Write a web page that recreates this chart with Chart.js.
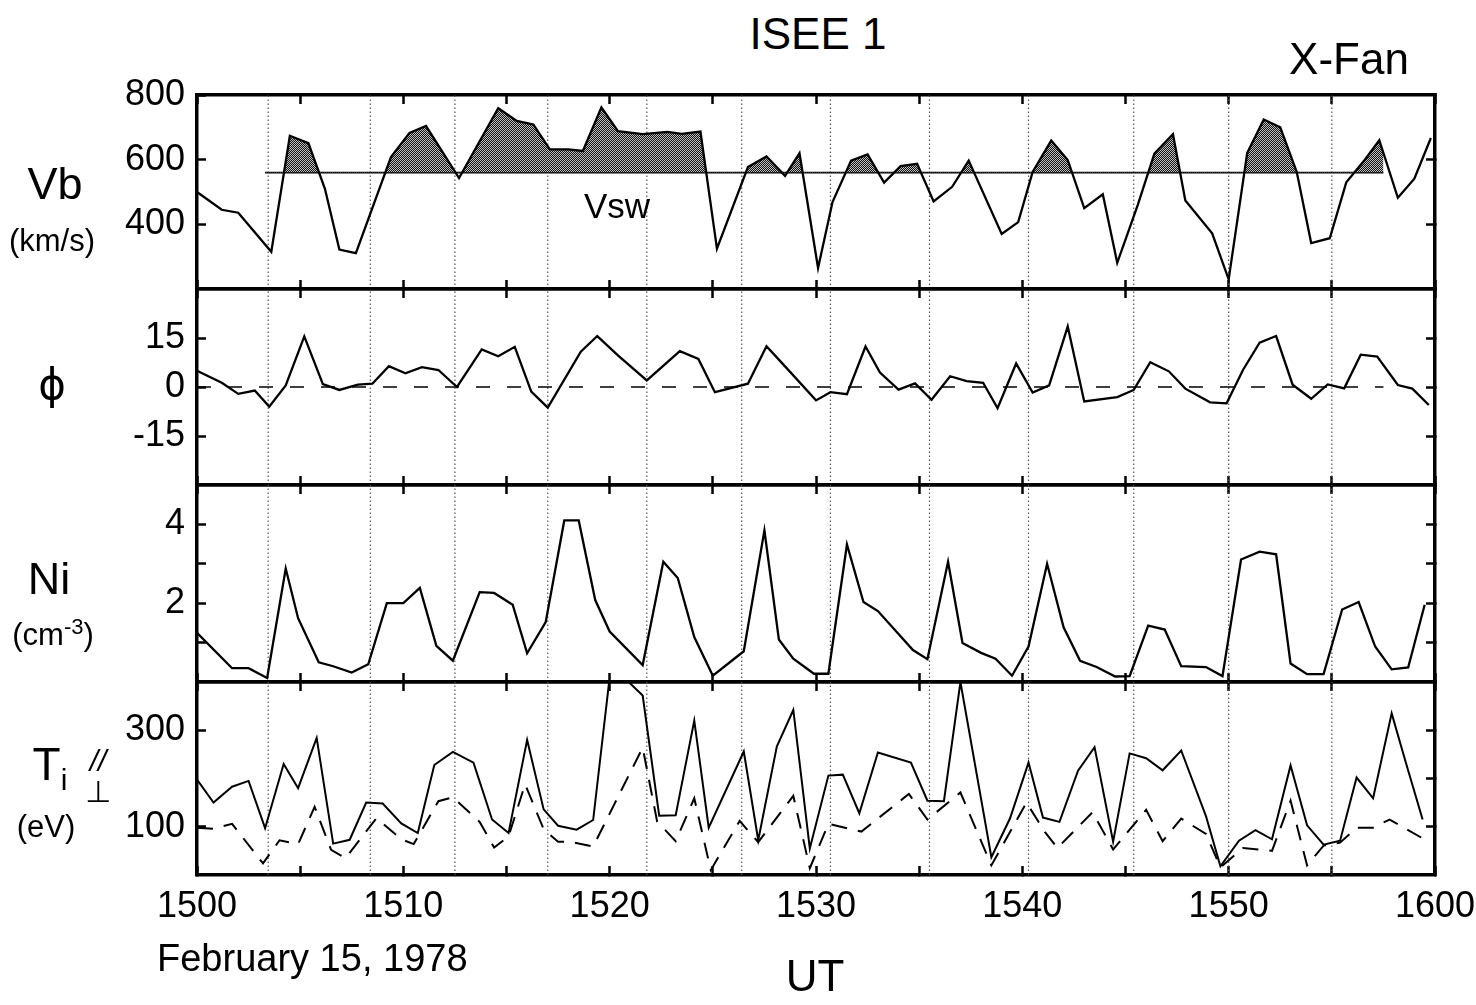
<!DOCTYPE html>
<html>
<head>
<meta charset="utf-8">
<script src="https://cdn.jsdelivr.net/npm/chart.js@4.4.1/dist/chart.umd.min.js"></script>
<style>
  body { margin: 0; background: #fff; }
  #fig { position: relative; width: 1476px; height: 1005px; overflow: hidden;
         font-family: "Liberation Sans", Arial, Helvetica, sans-serif; color: #000; }
  .panel { position: absolute; left: 0; }
  .panel canvas { display: block; }
  .lbl { position: absolute; transform: translate(-50%, -50%); white-space: nowrap; line-height: 1; }
  .sym { font-family: "DejaVu Sans", sans-serif; }
</style>
</head>
<body>
<div id="fig">
  <div class="panel"><canvas id="vbChart"></canvas></div>
  <div class="panel"><canvas id="phiChart"></canvas></div>
  <div class="panel"><canvas id="niChart"></canvas></div>
  <div class="panel"><canvas id="tiChart"></canvas></div>

  <div class="lbl" style="left:818px; top:34px; font-size:44px;">ISEE 1</div>
  <div class="lbl" style="left:1349px; top:59px; font-size:44px;">X-Fan</div>

  <div class="lbl" style="left:55px; top:183px; font-size:45px;">Vb</div>
  <div class="lbl" style="left:52px; top:240px; font-size:31px;">(km/s)</div>
  <div class="lbl" style="left:617px; top:205px; font-size:35px;">Vsw</div>

  <div class="lbl sym" style="left:52px; top:385px; font-size:42px;">ϕ</div>

  <div class="lbl" style="left:49px; top:578px; font-size:45px;">Ni</div>
  <div class="lbl" style="left:53px; top:633px; font-size:31px;">(cm<sup style="font-size:22px;">-3</sup>)</div>

  <div class="lbl" style="left:50px; top:768px; font-size:46px;">T<sub style="font-size:30px;">i</sub></div>
  <div class="lbl" style="left:98px; top:761px; font-size:30px; font-style:italic;">//</div>
  <div class="lbl sym" style="left:98px; top:792px; font-size:30px;">⊥</div>
  <div class="lbl" style="left:46px; top:826px; font-size:31px;">(eV)</div>

  <div class="lbl" style="left:157px; top:958px; font-size:38px; transform:translate(0,-50%);">February 15, 1978</div>
  <div class="lbl" style="left:815px; top:976px; font-size:44px;">UT</div>
</div>

<script>
// minutes after 15:00 UT
const markerTimes = [3.45, 8.4, 12.5, 17.0, 21.8, 26.4, 30.7, 35.5, 40.3, 45.4, 50.0, 55.0];

const vbTime  = [0, 1.2, 2.0, 3.6, 4.5, 5.4, 6.2, 6.9, 7.7, 9.4, 10.3, 11.1, 12.7, 14.6, 15.5, 16.3, 17.1, 18.0, 18.7, 19.6,
                 20.4, 21.6, 22.8, 23.5, 24.4, 25.2, 26.7, 27.6, 28.5, 29.2, 30.1, 30.8, 31.7, 32.5, 33.3, 34.1, 34.9, 35.7, 36.6, 37.4,
                 39.0, 39.8, 40.5, 41.4, 42.2, 43.0, 43.9, 44.6, 45.6, 46.4, 47.3, 47.9, 49.2, 50.0, 50.9, 51.7, 52.5, 53.3, 54.0, 54.9,
                 55.7, 56.6, 57.3, 58.2, 59.0, 59.8];
const vbSpeed = [500, 445, 436, 315, 674, 651, 510, 322, 311, 608, 683, 704, 543, 759, 720, 709, 632, 632, 627, 762,
                 688, 679, 686, 680, 687, 325, 577, 610, 550, 620, 265, 469, 597, 616, 529, 580, 587, 471, 516, 597,
                 370, 407, 562, 659, 599, 450, 493, 281, 461, 619, 679, 474, 372, 230, 621, 724, 700, 562, 342, 357,
                 530, 600, 660, 482, 541, 667];
const vswSpeed = 560;
const vswSpan = [3.3, 57.5];

const phiTime  = [0, 1.2, 2.0, 2.8, 3.5, 4.3, 5.2, 6.1, 6.9, 7.8, 8.5, 9.3, 10.1, 10.9, 11.7, 12.6, 13.8, 14.6, 15.4, 16.2,
                  17.0, 18.6, 19.4, 20.4, 21.8, 23.4, 24.3, 25.1, 26.7, 27.6, 28.4, 30.0, 30.7, 31.5, 32.4, 33.1, 34.0, 34.8, 35.6, 36.5,
                  37.3, 38.1, 38.8, 39.7, 40.5, 41.3, 42.2, 43.0, 44.6, 45.4, 46.2, 47.1, 47.9, 49.1, 49.9, 50.7, 51.5, 52.3, 53.1, 54.0,
                  54.8, 55.6, 56.4, 57.2, 58.2, 58.9, 59.7];
const phiAngle = [5, 1.3, -2.1, -1.1, -6.0, 0.5, 15.5, 0.9, -0.9, 0.7, 1.0, 6.4, 4.2, 6.1, 5.2, 0, 11.5, 9.4, 12.3, -1.4,
                  -6.3, 10.8, 15.6, 9.7, 2.0, 11.0, 8.6, -1.6, 1.0, 12.5, 7.0, -4.1, -1.6, -2.2, 12.4, 4.4, -0.8, 1.1, -3.9, 3.3,
                  1.8, 1.3, -6.5, 7.2, -1.7, 0.5, 18.5, -4.4, -3.1, -0.9, 7.6, 4.8, -0.5, -4.7, -5.0, 5.3, 13.6, 15.6, 0.7, -3.6,
                  0.8, -0.4, 9.9, 9.3, 0.6, -0.5, -5.5];
const phiZeroSpan = [0, 57.5];

const niTime    = [0, 1.7, 2.5, 3.4, 4.3, 4.9, 5.9, 6.6, 7.5, 8.3, 9.2, 10.0, 10.8, 11.6, 12.4, 13.7, 14.4, 15.3, 16.0, 16.9,
                   17.8, 18.5, 19.3, 20.0, 21.6, 22.6, 23.3, 24.1, 25.0, 26.5, 27.5, 28.2, 28.9, 29.9, 30.6, 31.5, 32.3, 33.0, 34.7, 35.4,
                   36.4, 37.1, 38.0, 38.7, 39.5, 40.3, 41.2, 42.0, 42.8, 43.6, 44.5, 45.2, 46.1, 46.9, 47.7, 48.9, 49.7, 50.6, 51.5, 52.3,
                   53.0, 53.8, 54.6, 55.5, 56.3, 57.1, 57.9, 58.7, 59.5];
const niDensity = [1.25, 0.35, 0.35, 0.1, 2.88, 1.62, 0.5, 0.4, 0.24, 0.45, 2.0, 2.0, 2.39, 0.92, 0.54, 2.28, 2.26, 1.96, 0.73, 1.52,
                   4.1, 4.1, 2.08, 1.28, 0.43, 3.05, 2.64, 1.14, 0.16, 0.78, 3.85, 1.08, 0.59, 0.21, 0.21, 3.49, 2.03, 1.8, 0.81, 0.58,
                   3.05, 0.99, 0.74, 0.59, 0.16, 0.9, 3.0, 1.39, 0.54, 0.38, 0.14, 0.15, 1.43, 1.33, 0.4, 0.38, 0.15, 3.11, 3.31, 3.24,
                   0.47, 0.2, 0.2, 1.84, 2.03, 0.9, 0.32, 0.37, 1.96];

const tiParTime  = [0, 0.8, 1.7, 2.5, 3.3, 4.2, 4.9, 5.8, 6.6, 7.4, 8.2, 9.0, 9.9, 10.7, 11.5, 12.4, 13.4, 14.3, 15.1, 16.0,
                    16.8, 17.5, 18.4, 19.2, 20.0, 20.8, 21.6, 22.4, 23.2, 24.1, 24.8, 26.5, 27.2, 28.1, 28.9, 29.7, 30.6, 31.3, 32.1, 33.0,
                    34.6, 35.4, 36.2, 37.0, 38.5, 39.4, 40.3, 41.0, 41.8, 42.7, 43.5, 44.4, 45.2, 46.0, 46.8, 47.7, 48.9, 49.6, 50.5, 51.3,
                    52.1, 53.0, 53.8, 54.6, 55.4, 56.2, 57.0, 57.9, 58.6, 59.4];
const tiParValue = [198, 150, 183, 195, 97, 230, 180, 284, 65, 73, 150, 148, 107, 87, 228, 255, 233, 115, 87, 280,
                    136, 102, 94, 114, 410, 405, 372, 123, 124, 320, 98, 256, 72, 266, 342, 55, 206, 208, 128, 254,
                    233, 154, 153, 400, 37, 117, 233, 119, 110, 216, 265, 69, 252, 242, 217, 258, 122, 18, 71, 93,
                    74, 227, 103, 63, 71, 202, 159, 335, 231, 115];

const tiPerpTime  = [0, 0.8, 1.7, 3.2, 4.0, 4.9, 5.7, 6.5, 7.2, 8.7, 9.9, 10.5, 11.7, 12.4, 13.7, 14.4, 15.1, 15.9, 16.8, 17.5,
                     18.1, 19.2, 21.6, 22.3, 23.2, 24.1, 24.9, 26.3, 27.2, 28.9, 29.7, 30.6, 31.2, 32.2, 34.5, 35.4, 37.0, 38.5, 40.2, 41.1,
                     41.7, 43.4, 44.4, 46.0, 46.8, 47.7, 48.9, 49.6, 50.7, 52.1, 53.0, 53.8, 54.6, 55.4, 56.2, 57.0, 57.8, 59.4];
const tiPerpValue = [98, 96, 106, 24, 72, 64, 141, 52, 35, 118, 74, 64, 153, 161, 110, 57, 80, 188, 95, 69,
                     69, 59, 264, 111, 70, 159, 10, 112, 68, 164, 14, 106, 100, 90, 168, 115, 171, 20, 150, 89,
                     56, 130, 53, 135, 70, 117, 85, 16, 56, 50, 154, 20, 61, 67, 98, 98, 115, 76];

// frame geometry
const PLOT_LEFT = 197, PLOT_RIGHT = 1435, PAD = 30, AXIS_H = 80;
const INK = '#000';

function zip(xs, ys) { return xs.map((x, i) => ({ x: x, y: ys[i] })); }

function hhmm(v) {
  const h = 15 + Math.floor(v / 60), m = v % 60;
  return String(h) + String(m).padStart(2, '0');
}

// stippled fill used above the solar wind speed
const stipple = (function () {
  const c = document.createElement('canvas');
  c.width = c.height = 4;
  const g = c.getContext('2d');
  g.fillStyle = '#c0c0c0';
  g.fillRect(0, 0, 4, 4);
  g.fillStyle = '#141414';
  for (let y = 0; y < 4; y++) {
    for (let x = 0; x < 4; x++) {
      if ((x + y) % 2 === 0) g.fillRect(x, y, 1, 1);
    }
  }
  return g.createPattern(c, 'repeat');
})();

function markerSet(lo, hi) {
  const pts = [];
  markerTimes.forEach(t => { pts.push({ x: t, y: lo }, { x: t, y: hi }, { x: t, y: null }); });
  return {
    data: pts, borderColor: '#555', borderWidth: 1.2, borderDash: [1.5, 2.5],
    spanGaps: false, fill: false, xAxisID: 'x', yAxisID: 'y'
  };
}

function inwardGrid() {
  return { drawOnChartArea: false, drawTicks: true, tickLength: -9, tickWidth: 2.5, tickColor: INK };
}
function frameBorder() {
  return { display: true, width: 3.5, color: INK };
}

function makePanel(id, top, bottom, axis, datasets, timeLabels) {
  const canvas = document.getElementById(id);
  canvas.width = 1476;
  canvas.height = PAD + (bottom - top) + (timeLabels ? AXIS_H : PAD);
  canvas.parentNode.style.top = (top - PAD) + 'px';

  const setTicks = list => s => { s.ticks = list.map(v => ({ value: v })); };

  return new Chart(canvas, {
    type: 'line',
    data: { datasets: datasets },
    options: {
      responsive: false,
      animation: false,
      devicePixelRatio: 1,
      layout: { padding: { top: PAD, bottom: timeLabels ? 0 : PAD, left: 0, right: 1476 - PLOT_RIGHT } },
      elements: { line: { tension: 0 }, point: { radius: 0 } },
      plugins: { legend: { display: false }, tooltip: { enabled: false } },
      scales: {
        x: {
          type: 'linear', position: 'bottom', min: 0, max: 60,
          ticks: {
            stepSize: 5, autoSkip: false, maxRotation: 0, display: timeLabels,
            font: { size: 36, family: '"Liberation Sans", Arial, sans-serif' }, color: INK, padding: 19,
            callback: v => (v % 10 === 0 ? hhmm(v) : '')
          },
          grid: inwardGrid(), border: frameBorder(),
          afterFit: s => { s.height = timeLabels ? AXIS_H : 0; s.paddingLeft = 0; s.paddingRight = 0; }
        },
        xTop: {
          type: 'linear', position: 'top', min: 0, max: 60,
          ticks: { stepSize: 5, display: false },
          grid: inwardGrid(), border: frameBorder(),
          afterFit: s => { s.height = 0; s.paddingLeft = 0; s.paddingRight = 0; }
        },
        y: {
          type: 'linear', position: 'left', min: axis.min, max: axis.max,
          afterBuildTicks: setTicks(axis.left),
          ticks: {
            font: { size: 36, family: '"Liberation Sans", Arial, sans-serif' }, color: INK, padding: 21,
            callback: v => (axis.labelled.includes(v) ? String(v) : '')
          },
          grid: inwardGrid(), border: frameBorder(),
          afterFit: s => { s.width = PLOT_LEFT; s.paddingTop = 0; s.paddingBottom = 0; }
        },
        yRight: {
          type: 'linear', position: 'right', min: axis.min, max: axis.max,
          afterBuildTicks: setTicks(axis.right),
          ticks: { display: false },
          grid: inwardGrid(), border: frameBorder(),
          afterFit: s => { s.width = 0; s.paddingTop = 0; s.paddingBottom = 0; }
        }
      }
    }
  });
}

// Vb with solar wind reference and shaded excess
makePanel('vbChart', 95, 289,
  { min: 200, max: 800, left: [400, 600, 800], right: [400, 600], labelled: [400, 600, 800] },
  [
    { data: zip(vbTime, vbSpeed), borderColor: INK, borderWidth: 2.3, xAxisID: 'x', yAxisID: 'y',
      fill: { target: 1, above: stipple, below: 'rgba(0,0,0,0)' } },
    { data: [{ x: vswSpan[0], y: vswSpeed }, { x: vswSpan[1], y: vswSpeed }],
      borderColor: INK, borderWidth: 1.6, fill: false, xAxisID: 'x', yAxisID: 'y' },
    markerSet(200, 800)
  ], false);

// flow angle
makePanel('phiChart', 289, 485,
  { min: -30, max: 30, left: [-15, 0, 15], right: [-15, 0, 15], labelled: [-15, 0, 15] },
  [
    { data: zip(phiTime, phiAngle), borderColor: INK, borderWidth: 2.3, fill: false, xAxisID: 'x', yAxisID: 'y' },
    { data: [{ x: phiZeroSpan[0], y: 0 }, { x: phiZeroSpan[1], y: 0 }], borderColor: INK, borderWidth: 1.6,
      borderDash: [14, 17], fill: false, xAxisID: 'x', yAxisID: 'y' },
    markerSet(-30, 30)
  ], false);

// ion density
makePanel('niChart', 485, 682,
  { min: 0, max: 5, left: [1, 2, 3, 4], right: [1, 2, 3, 4], labelled: [2, 4] },
  [
    { data: zip(niTime, niDensity), borderColor: INK, borderWidth: 2.3, fill: false, xAxisID: 'x', yAxisID: 'y' },
    markerSet(0, 5)
  ], false);

// ion temperature, parallel (solid) and perpendicular (dashed)
makePanel('tiChart', 682, 875,
  { min: 0, max: 400, left: [100, 300], right: [100, 200, 300], labelled: [100, 300] },
  [
    { data: zip(tiParTime, tiParValue), borderColor: INK, borderWidth: 2, fill: false, xAxisID: 'x', yAxisID: 'y' },
    { data: zip(tiPerpTime, tiPerpValue), borderColor: INK, borderWidth: 2, borderDash: [16, 11],
      fill: false, xAxisID: 'x', yAxisID: 'y' },
    markerSet(0, 400)
  ], true);
</script>
</body>
</html>
